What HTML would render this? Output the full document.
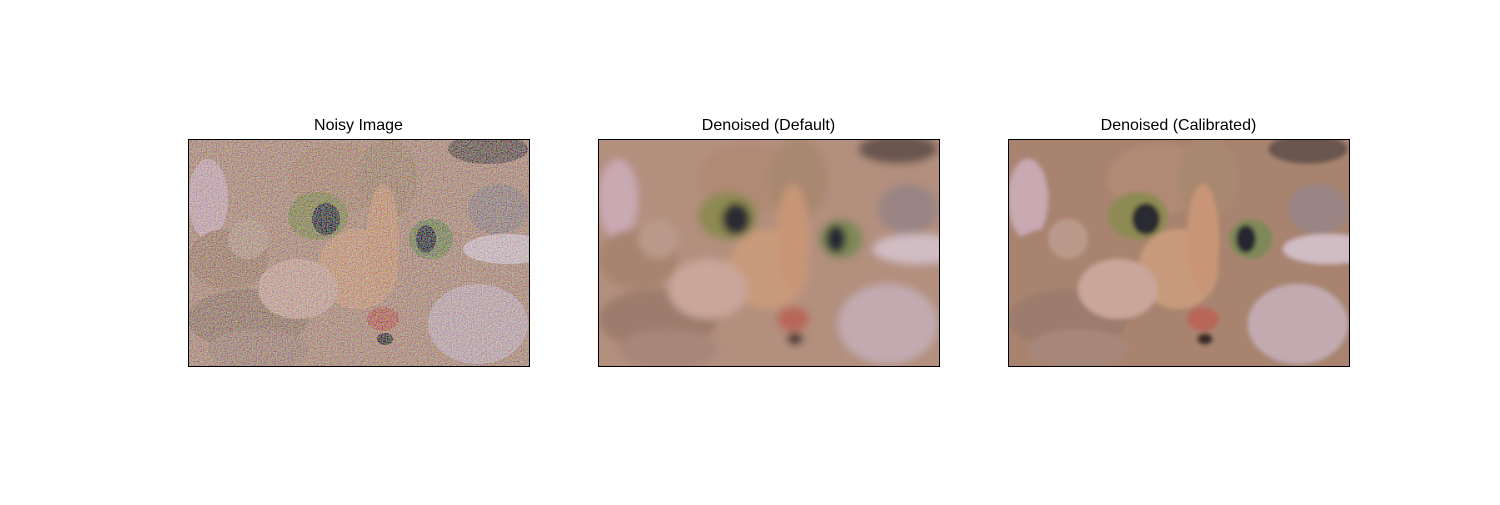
<!DOCTYPE html>
<html><head><meta charset="utf-8"><style>
body{margin:0;background:#fff;width:1500px;height:500px;overflow:hidden;font-family:"Liberation Sans",sans-serif}
</style></head><body>
<svg id="fig" width="1500" height="500" xmlns="http://www.w3.org/2000/svg">
<defs>
<filter id="noise" x="0" y="0" width="100%" height="100%">
<feTurbulence type="fractalNoise" baseFrequency="0.8" numOctaves="1" seed="3" result="t"/>
<feColorMatrix in="t" type="matrix" values="1 0 0 0 0  0 1 0 0 0  0 0 1 0 0  0 0 0 0 1" result="n"/>
<feComposite in="SourceGraphic" in2="n" operator="arithmetic" k1="0" k2="0.75" k3="0.9" k4="-0.33"/>
</filter>
<filter id="blur" x="-10%" y="-10%" width="120%" height="120%"><feGaussianBlur stdDeviation="4"/></filter>
<filter id="blur2" x="-10%" y="-10%" width="120%" height="120%"><feGaussianBlur stdDeviation="2"/></filter>
</defs>
</svg>
<script>
const titles=["Noisy Image","Denoised (Default)","Denoised (Calibrated)"];
const panelX=[188,598,1008];
// blobs: [cx, cy, rx, ry, color] in image coords (341x227)
const blobCx=[20,40,300,320,290,310,60,150,200,170,110,130,138,243,238,195,197,70,60,195];
const blobCy=[60,120,10,110,185,70,180,40,40,130,150,77,80,100,100,180,200,210,100,100];
const blobRx=[20,40,40,45,50,30,60,50,30,40,40,30,14,22,10,16,8,50,20,16];
const blobRy=[40,30,15,15,40,25,30,35,40,40,30,24,16,20,14,12,6,20,20,55];
const blobCol=["#c9a9b2","#a7836f","#6b5650","#d0bcc3","#c2aab0","#9a8584","#9c7c6c","#b08a74","#a88870","#c89a7c","#c9a59a","#8e8a52","#2a2a30","#7f8858","#252530","#b86658","#3a2a28","#a7877a","#b99a8a","#c89676"];
const svg=document.getElementById('fig');
const NS="http://www.w3.org/2000/svg";
titles.forEach((t,i)=>{
  const x0=panelX[i],y0=139,w=341,h=227;
  const g=document.createElementNS(NS,'g');
  
  
  const cg=document.createElementNS(NS,'g');
  const clip=document.createElementNS(NS,'clipPath');clip.id='c'+i;
  const cr=document.createElementNS(NS,'rect');cr.setAttribute('x',x0);cr.setAttribute('y',y0);cr.setAttribute('width',w);cr.setAttribute('height',h);
  clip.appendChild(cr);svg.appendChild(clip);
  cg.setAttribute('clip-path','url(#c'+i+')');
  const inner=document.createElementNS(NS,'g');
  inner.setAttribute('filter',i==0?'url(#noise)':(i==1?'url(#blur)':'url(#blur2)'));
  const bg=document.createElementNS(NS,'rect');
  bg.setAttribute('x',x0-20);bg.setAttribute('y',y0-20);bg.setAttribute('width',w+40);bg.setAttribute('height',h+40);
  bg.setAttribute('fill',i==2?'#a88470':'#b38f7e');
  inner.appendChild(bg);
  for(let k=0;k<blobCx.length;k++){
    const e=document.createElementNS(NS,'ellipse');
    
    
    e.setAttribute('cx',x0+blobCx[k]);e.setAttribute('cy',y0+blobCy[k]);
    e.setAttribute('rx',blobRx[k]);e.setAttribute('ry',blobRy[k]);
    e.setAttribute('fill',blobCol[k]);
    inner.appendChild(e);
  }
  cg.appendChild(inner);g.appendChild(cg);
  const fr=document.createElementNS(NS,'rect');
  
  
  fr.setAttribute('x',x0+0.5);fr.setAttribute('y',y0+0.5);fr.setAttribute('width',w);fr.setAttribute('height',h);
  fr.setAttribute('fill','none');fr.setAttribute('stroke','#000');
  g.appendChild(fr);
  const tx=document.createElementNS(NS,'text');
  
  
  tx.setAttribute('x',x0+w/2);tx.setAttribute('y',130);tx.setAttribute('text-anchor','middle');
  tx.setAttribute('font-size','16');tx.setAttribute('font-family','Liberation Sans, sans-serif');
  tx.textContent=t;g.appendChild(tx);
  svg.appendChild(g);
});
</script>
</body></html>
